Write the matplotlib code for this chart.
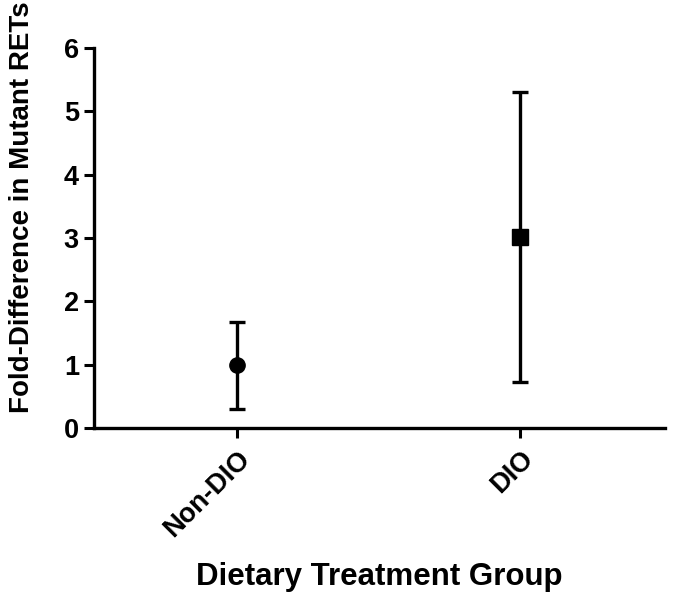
import matplotlib
matplotlib.use("Agg")
import matplotlib.pyplot as plt

groups = ["Non-DIO", "DIO"]
means = [1.0, 3.01]
lower = [0.30, 0.72]
upper = [1.67, 5.30]
markers = ["o", "s"]

plt.rcParams['font.family'] = ['Liberation Sans', 'DejaVu Sans']
plt.rcParams['font.weight'] = 'bold'

fig = plt.figure(figsize=(6.73, 6.06), dpi=100)
ax = fig.add_axes([0.14, 0.294, 0.848, 0.627])

for i in range(len(groups)):
    err = [[means[i] - lower[i]], [upper[i] - means[i]]]
    ax.errorbar([i], [means[i]], yerr=err, fmt=markers[i], color="black",
                ms=11, elinewidth=2.4, capsize=5.5, capthick=2.4)

ax.set_xlim(-0.505, 1.51)
ax.set_ylim(0, 6)
ax.set_xticks(range(len(groups)))
ax.set_xticklabels(groups, rotation=45, ha="right", rotation_mode="anchor", fontsize=19.5)
ax.set_yticks(range(0, 7))
ax.tick_params(axis="y", labelsize=19.5, width=2.2, length=7, direction="out", pad=4)
ax.tick_params(axis="x", width=2.2, length=7, direction="out", pad=6)

for s in ["top", "right"]:
    ax.spines[s].set_visible(False)
for s in ["left", "bottom"]:
    ax.spines[s].set_linewidth(2.4)

ax.set_xlabel("Dietary Treatment Group", fontsize=22.5, fontweight="bold", labelpad=14)
ax.set_ylabel("Fold-Difference in Mutant RETs", fontsize=20, fontweight="bold")
ax.yaxis.set_label_coords(-0.103, 0.58)

fig.savefig("out.png", dpi=100)
